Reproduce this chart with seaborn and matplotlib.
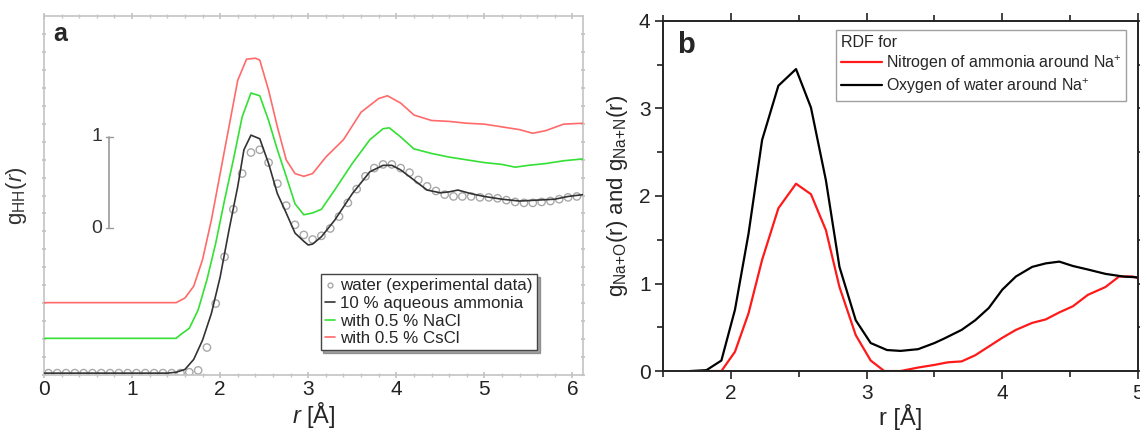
import numpy as np
import pandas as pd
import matplotlib
matplotlib.use('Agg')
import matplotlib.pyplot as plt
from matplotlib.ticker import MultipleLocator, NullFormatter
from matplotlib.lines import Line2D
import seaborn as sns

sns.set_theme(style='ticks')
plt.rcParams['font.family'] = ['Liberation Sans', 'DejaVu Sans']
plt.rcParams['mathtext.fontset'] = 'custom'
plt.rcParams['mathtext.rm'] = 'Liberation Sans'
plt.rcParams['mathtext.it'] = 'Liberation Sans:italic'

# ---- panel a data (scale-bar units) ----
water_r = np.round(np.arange(0.05, 6.06, 0.1), 2)
water_g = [0, 0, 0, 0, 0, 0, 0, 0, 0, 0, 0, 0, 0, 0, 0, 0,
           0.01, 0.03, 0.28, 0.76, 1.27, 1.79, 2.18, 2.41, 2.44, 2.30,
           2.07, 1.83, 1.62, 1.51, 1.46, 1.50, 1.58, 1.71, 1.86, 2.01,
           2.15, 2.24, 2.28, 2.28, 2.24, 2.19, 2.11, 2.04, 1.99, 1.95,
           1.93, 1.93, 1.93, 1.92, 1.92, 1.91, 1.89, 1.87, 1.86, 1.86,
           1.87, 1.88, 1.90, 1.92, 1.93]

ammonia_r = [0.0, 1.4, 1.5, 1.6, 1.7, 1.8, 1.9, 2.0, 2.1, 2.2, 2.27, 2.35, 2.45,
             2.55, 2.65, 2.75, 2.85, 2.95, 3.0, 3.05, 3.15, 3.3, 3.5, 3.7,
             3.85, 3.95, 4.05, 4.2, 4.35, 4.5, 4.6, 4.7, 4.85, 5.0, 5.2,
             5.4, 5.6, 5.8, 5.95, 6.12]
ammonia_g = [0.0, 0.0, 0.01, 0.04, 0.15, 0.36, 0.65, 1.05, 1.56, 2.04, 2.44, 2.6,
             2.56, 2.29, 1.96, 1.75, 1.53, 1.44, 1.40, 1.41, 1.49, 1.67,
             1.96, 2.2, 2.27, 2.27, 2.22, 2.11, 2.0, 1.97, 1.98, 2.0, 1.96,
             1.93, 1.9, 1.88, 1.89, 1.9, 1.93, 1.95]

nacl_r = [0.0, 1.5, 1.55, 1.65, 1.75, 1.85, 1.95, 2.05, 2.15, 2.25, 2.35, 2.45,
          2.55, 2.65, 2.75, 2.85, 2.95, 3.05, 3.15, 3.3, 3.5, 3.7, 3.85,
          3.92, 4.05, 4.2, 4.4, 4.6, 4.8, 5.0, 5.2, 5.35, 5.5, 5.7, 5.9, 6.12]
nacl_g = [0.38, 0.38, 0.42, 0.49, 0.69, 1.02, 1.42, 1.89, 2.33, 2.8, 3.06, 3.03,
          2.76, 2.44, 2.15, 1.85, 1.73, 1.75, 1.79, 2.0, 2.29, 2.55, 2.67,
          2.68, 2.58, 2.45, 2.4, 2.36, 2.33, 2.3, 2.28, 2.25, 2.27, 2.29,
          2.32, 2.34]

cscl_r = [0.0, 1.5, 1.6, 1.7, 1.8, 1.9, 2.0, 2.1, 2.2, 2.3, 2.4, 2.45, 2.55,
          2.65, 2.75, 2.85, 2.95, 3.05, 3.2, 3.4, 3.6, 3.8, 3.9, 4.05, 4.2,
          4.4, 4.6, 4.8, 5.0, 5.2, 5.4, 5.55, 5.7, 5.9, 6.12]
cscl_g = [0.77, 0.77, 0.82, 0.95, 1.24, 1.67, 2.18, 2.69, 3.2, 3.43, 3.44, 3.42,
          3.09, 2.69, 2.33, 2.18, 2.15, 2.18, 2.36, 2.55, 2.85, 3.0, 3.03,
          2.95, 2.82, 2.76, 2.75, 2.73, 2.72, 2.69, 2.66, 2.62, 2.65, 2.72,
          2.73]

labels_a = ['water (experimental data)', '10 % aqueous ammonia',
            'with 0.5 % NaCl', 'with 0.5 % CsCl']

# scale bar in panel a
bar_r = 0.74
bar_lo, bar_hi = 1.58, 2.58

# ---- panel b data ----
oxy_r = [1.7, 1.82, 1.93, 2.03, 2.13, 2.23, 2.35, 2.48, 2.59, 2.7, 2.8, 2.92,
         3.03, 3.15, 3.25, 3.38, 3.5, 3.57, 3.7, 3.8, 3.9, 4.0, 4.1, 4.22,
         4.32, 4.42, 4.52, 4.63, 4.76, 4.89, 5.0]
oxy_g = [0.0, 0.01, 0.12, 0.70, 1.57, 2.64, 3.26, 3.45, 3.01, 2.18, 1.19, 0.58,
         0.32, 0.24, 0.23, 0.25, 0.32, 0.37, 0.47, 0.58, 0.72, 0.93, 1.08,
         1.19, 1.23, 1.25, 1.2, 1.16, 1.11, 1.08, 1.07]

nit_r = [1.8, 1.93, 2.03, 2.13, 2.23, 2.35, 2.48, 2.59, 2.7, 2.8, 2.92, 3.03,
         3.13, 3.25, 3.38, 3.5, 3.6, 3.7, 3.8, 3.9, 4.0, 4.1, 4.22, 4.32,
         4.42, 4.52, 4.63, 4.76, 4.86, 4.96, 5.0]
nit_g = [0.0, 0.0, 0.22, 0.66, 1.27, 1.86, 2.14, 2.02, 1.61, 0.96, 0.41, 0.12,
         0.0, 0.0, 0.04, 0.07, 0.1, 0.11, 0.18, 0.28, 0.38, 0.47, 0.55, 0.59,
         0.67, 0.74, 0.87, 0.96, 1.08, 1.08, 1.06]

labels_b = ['Nitrogen of ammonia around Na$^{+}$', 'Oxygen of water around Na$^{+}$']

fig = plt.figure(figsize=(11.4, 4.36), dpi=100)

# ================= panel a =================
ax = fig.add_axes([0.0386, 0.14, 0.4728, 0.823])
grey = '#c4c4c4'
c_black, c_green, c_red = '#333333', '#33e033', '#ff6a6a'

sns.scatterplot(x=water_r, y=water_g, ax=ax, marker='o', s=28,
                facecolors='none', edgecolor='#a8a8a8', linewidth=1.0, zorder=2)
sns.lineplot(x=ammonia_r, y=ammonia_g, ax=ax, color=c_black, lw=1.2, sort=False, zorder=3)
sns.lineplot(x=nacl_r, y=nacl_g, ax=ax, color=c_green, lw=1.2, sort=False, zorder=3)
sns.lineplot(x=cscl_r, y=cscl_g, ax=ax, color=c_red, lw=1.2, sort=False, zorder=3)

ax.set_xlim(0, 6.12)
ax.set_ylim(-0.02, 3.9)
ax.xaxis.set_major_locator(MultipleLocator(1))
ax.xaxis.set_minor_locator(MultipleLocator(0.2))
ax.set_yticks(np.arange(-0.02, 3.9, 0.196))
ax.yaxis.set_major_formatter(NullFormatter())
for s in ax.spines.values():
    s.set_color(grey)
    s.set_linewidth(1.2)
ax.tick_params(which='both', direction='inout', color=grey, top=True, right=True,
               labelsize=15, labelcolor='#222222', pad=1)
ax.tick_params(which='major', length=5)
ax.tick_params(which='minor', length=3)
ax.tick_params(axis='y', which='major', length=3)

# scale bar
ax.plot([bar_r, bar_r], [bar_lo, bar_hi], color='#999999', lw=1.2)
ax.plot([bar_r - 0.04, bar_r + 0.04], [bar_hi, bar_hi], color='#999999', lw=1.0)
ax.plot([bar_r - 0.04, bar_r + 0.04], [bar_lo, bar_lo], color='#999999', lw=1.0)
ax.text(bar_r - 0.08, bar_hi, '1', ha='right', va='center', fontsize=14, color='#333333')
ax.text(bar_r - 0.08, bar_lo, '0', ha='right', va='center', fontsize=14, color='#333333')

ax.text(0.017, 0.985, 'a', transform=ax.transAxes, fontsize=18, fontweight='bold',
        va='top', ha='left')
ax.set_xlabel('$r$ [Å]', fontsize=17, labelpad=1)
ax.set_ylabel('g$_{\\mathrm{HH}}$($r$)', fontsize=16, labelpad=8, color='#333333')

handles_a = [
    Line2D([], [], marker='o', ls='none', mfc='none', mec='#a8a8a8', ms=3.5),
    Line2D([], [], color=c_black, lw=1.2),
    Line2D([], [], color=c_green, lw=1.2),
    Line2D([], [], color=c_red, lw=1.2),
]
leg = ax.legend(handles_a, labels_a, loc='lower right', bbox_to_anchor=(0.93, 0.045),
                fontsize=12.2, handlelength=0.6, handletextpad=0.3, labelspacing=0.15,
                borderpad=0.25, frameon=True, fancybox=False, shadow=True)
leg.get_frame().set_edgecolor('#444444')
leg.get_frame().set_linewidth(1.0)

# ================= panel b =================
bx = fig.add_axes([0.5816, 0.149, 0.4167, 0.803])
sns.lineplot(x=nit_r, y=nit_g, ax=bx, color='#ff1a1a', lw=1.6, sort=False,
             label=labels_b[0])
sns.lineplot(x=oxy_r, y=oxy_g, ax=bx, color='black', lw=1.6, sort=False,
             label=labels_b[1])
bx.set_xlim(1.5, 5)
bx.set_ylim(0, 4)
bx.xaxis.set_major_locator(MultipleLocator(1))
bx.xaxis.set_minor_locator(MultipleLocator(0.5))
bx.yaxis.set_major_locator(MultipleLocator(1))
bx.yaxis.set_minor_locator(MultipleLocator(0.5))
for s in bx.spines.values():
    s.set_color('#222222')
    s.set_linewidth(1.4)
bx.tick_params(which='both', direction='out', top=True, right=True, width=1.2,
               color='#222222', labelsize=15, labelcolor='#222222', pad=3)
bx.tick_params(which='major', length=6)
bx.tick_params(which='minor', length=4)
bx.text(0.03, 0.97, 'b', transform=bx.transAxes, fontsize=21, fontweight='bold',
        va='top', ha='left')
bx.set_xlabel('r [Å]', fontsize=17, labelpad=1)
bx.set_ylabel('g$_{\\mathrm{Na{+}O}}$(r) and g$_{\\mathrm{Na{+}N}}$(r)', fontsize=16,
              labelpad=6)

leg_b = bx.legend(loc='upper right', bbox_to_anchor=(0.975, 0.973), title='RDF for',
                  fontsize=11.5, title_fontsize=11.5, handlelength=2.6,
                  handletextpad=0.2, labelspacing=0.2, borderpad=0.3,
                  borderaxespad=0.0, frameon=True, fancybox=False)
leg_b._legend_box.align = 'left'
leg_b.get_frame().set_edgecolor('#888888')
leg_b.get_frame().set_linewidth(1.0)

fig.savefig('out.png', dpi=100)
